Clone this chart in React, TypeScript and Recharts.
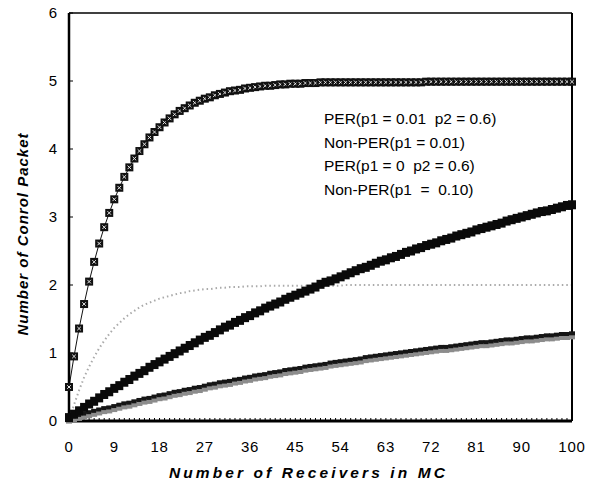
import React from 'react';
import { LineChart, Line, XAxis, YAxis, Legend, Label } from 'recharts';

const receivers = [
  0, 1, 2, 3, 4, 5, 6, 7, 8, 9, 10, 11, 12, 13, 14, 15, 16, 17, 18, 19,
  20, 21, 22, 23, 24, 25, 26, 27, 28, 29, 30, 31, 32, 33, 34, 35, 36, 37, 38, 39,
  40, 41, 42, 43, 44, 45, 46, 47, 48, 49, 50, 51, 52, 53, 54, 55, 56, 57, 58, 59,
  60, 61, 62, 63, 64, 65, 66, 67, 68, 69, 70, 71, 72, 73, 74, 75, 76, 77, 78, 79,
  80, 81, 82, 83, 84, 85, 86, 87, 88, 89, 90, 91, 92, 93, 94, 95, 96, 97, 98, 99, 100,
];

// PER(p1 = 0.01  p2 = 0.6)
const perP1001 = [
  0.50, 0.95, 1.36, 1.72, 2.05, 2.34, 2.61, 2.85, 3.06, 3.26,
  3.43, 3.59, 3.73, 3.86, 3.97, 4.07, 4.17, 4.25, 4.32, 4.39,
  4.45, 4.51, 4.56, 4.60, 4.64, 4.68, 4.71, 4.74, 4.76, 4.79,
  4.81, 4.83, 4.85, 4.86, 4.87, 4.89, 4.90, 4.91, 4.92, 4.93,
  4.93, 4.94, 4.95, 4.95, 4.96, 4.96, 4.96, 4.97, 4.97, 4.97,
  4.98, 4.98, 4.98, 4.98, 4.98, 4.98, 4.98, 4.98, 4.98, 4.98,
  4.98, 4.98, 4.98, 4.98, 4.98, 4.98, 4.98, 4.98, 4.98, 4.98,
  4.98, 4.99, 4.99, 4.99, 4.99, 4.99, 4.99, 4.99, 4.99, 4.99,
  4.99, 4.99, 4.99, 4.99, 4.99, 4.99, 4.99, 4.99, 4.99, 4.99,
  4.99, 4.99, 4.99, 4.99, 4.99, 4.99, 4.99, 4.99, 4.99, 4.99,
  4.99,
];

// Non-PER(p1 = 0.01)
const nonPerP1001 = [
  0.02, 0.04, 0.06, 0.08, 0.10, 0.12, 0.14, 0.16, 0.17, 0.19,
  0.21, 0.23, 0.24, 0.26, 0.28, 0.30, 0.31, 0.33, 0.35, 0.36,
  0.38, 0.40, 0.41, 0.43, 0.44, 0.46, 0.47, 0.49, 0.51, 0.52,
  0.54, 0.55, 0.56, 0.58, 0.59, 0.61, 0.62, 0.64, 0.65, 0.66,
  0.68, 0.69, 0.70, 0.72, 0.73, 0.74, 0.75, 0.77, 0.78, 0.79,
  0.80, 0.81, 0.83, 0.84, 0.85, 0.86, 0.87, 0.88, 0.89, 0.91,
  0.92, 0.93, 0.94, 0.95, 0.96, 0.97, 0.98, 0.99, 1.00, 1.01,
  1.02, 1.03, 1.04, 1.05, 1.06, 1.06, 1.07, 1.08, 1.09, 1.10,
  1.11, 1.12, 1.13, 1.13, 1.14, 1.15, 1.16, 1.17, 1.17, 1.18,
  1.19, 1.20, 1.20, 1.21, 1.22, 1.23, 1.23, 1.24, 1.25, 1.25,
  1.26,
];

// PER(p1 = 0  p2 = 0.6)
const perP100 = [
  0.05, 0.10, 0.15, 0.20, 0.25, 0.29, 0.34, 0.39, 0.43, 0.48,
  0.52, 0.57, 0.61, 0.66, 0.70, 0.74, 0.79, 0.83, 0.87, 0.91,
  0.95, 0.99, 1.03, 1.07, 1.11, 1.15, 1.19, 1.23, 1.26, 1.30,
  1.34, 1.38, 1.41, 1.45, 1.48, 1.52, 1.55, 1.59, 1.62, 1.66,
  1.69, 1.72, 1.75, 1.79, 1.82, 1.85, 1.88, 1.91, 1.94, 1.97,
  2.01, 2.04, 2.06, 2.09, 2.12, 2.15, 2.18, 2.21, 2.24, 2.26,
  2.29, 2.32, 2.35, 2.37, 2.40, 2.42, 2.45, 2.48, 2.50, 2.53,
  2.55, 2.58, 2.60, 2.62, 2.65, 2.67, 2.69, 2.72, 2.74, 2.76,
  2.78, 2.81, 2.83, 2.85, 2.87, 2.89, 2.91, 2.94, 2.96, 2.98,
  3.00, 3.02, 3.04, 3.06, 3.08, 3.09, 3.11, 3.13, 3.15, 3.17,
  3.18,
];

// Non-PER(p1 = 0.10)
const nonPerP1010 = [
  0.00, 0.24, 0.45, 0.64, 0.80, 0.94, 1.07, 1.18, 1.28, 1.37,
  1.44, 1.51, 1.57, 1.62, 1.67, 1.71, 1.74, 1.77, 1.80, 1.82,
  1.84, 1.86, 1.88, 1.89, 1.91, 1.92, 1.93, 1.94, 1.94, 1.95,
  1.96, 1.96, 1.97, 1.97, 1.97, 1.98, 1.98, 1.98, 1.98, 1.99,
  1.99, 1.99, 1.99, 1.99, 1.99, 1.99, 1.99, 1.99, 1.99, 1.99,
  1.99, 1.99, 1.99, 1.99, 1.99, 2.00, 2.00, 2.00, 2.00, 2.00,
  2.00, 2.00, 2.00, 2.00, 2.00, 2.00, 2.00, 2.00, 2.00, 2.00,
  2.00, 2.00, 2.00, 2.00, 2.00, 2.00, 2.00, 2.00, 2.00, 2.00,
  2.00, 2.00, 2.00, 2.00, 2.00, 2.00, 2.00, 2.00, 2.00, 2.00,
  2.00, 2.00, 2.00, 2.00, 2.00, 2.00, 2.00, 2.00, 2.00, 2.00,
  2.00,
];

const xTickLabels = [0, 9, 18, 27, 36, 45, 54, 63, 72, 81, 90, 100];
const yTicks = [0, 1, 2, 3, 4, 5, 6];
const seriesNames = [
  'PER(p1 = 0.01  p2 = 0.6)',
  'Non-PER(p1 = 0.01)',
  'PER(p1 = 0  p2 = 0.6)',
  'Non-PER(p1  =  0.10)',
];
const xTitle = 'Number of Receivers in MC';
const yTitle = 'Number of Conrol Packet';

const data = receivers.map((x, i) => ({
  x,
  a: perP1001[i],
  b: nonPerP1001[i],
  c: perP100[i],
  d: nonPerP1010[i],
}));

const FONT = '"Liberation Sans", Arial, Helvetica, sans-serif';

const TopDot = (p: any) => {
  const { cx, cy, index } = p;
  if (cx == null || cy == null) return <g key={`ta${index}`} />;
  return (
    <g key={`ta${index}`}>
      <rect x={cx - 4} y={cy - 4} width={8} height={8} fill="#111" />
      <path
        d={`M${cx - 1.8},${cy - 1.8}L${cx + 1.8},${cy + 1.8}M${cx + 1.8},${cy - 1.8}L${cx - 1.8},${cy + 1.8}`}
        stroke="#e6e6e6"
        strokeWidth={1}
      />
    </g>
  );
};

const MidDot = (p: any) => {
  const { cx, cy, index } = p;
  if (cx == null || cy == null) return <g key={`tc${index}`} />;
  return <rect key={`tc${index}`} x={cx - 4} y={cy - 4.5} width={8} height={9} fill="#0a0a0a" />;
};

const LowDot = (p: any) => {
  const { cx, cy, index } = p;
  if (cx == null || cy == null) return <g key={`tb${index}`} />;
  return (
    <g key={`tb${index}`}>
      <rect x={cx - 3} y={cy - 1} width={6} height={5} fill="#8c8c8c" />
      <rect x={cx - 3} y={cy - 4} width={6} height={4} fill="#151515" />
    </g>
  );
};

const LegendContent = (props: any) => {
  const payload = [...(props.payload || [])].sort(
    (p: any, q: any) => seriesNames.indexOf(p.value) - seriesNames.indexOf(q.value)
  );
  return (
    <div style={{ fontFamily: FONT, fontSize: 15.5, color: '#000' }}>
      {payload.map((e: any, i: number) => (
        <div key={i} style={{ whiteSpace: 'pre', lineHeight: '23.6px' }}>
          {e.value}
        </div>
      ))}
    </div>
  );
};

const XTitle = (props: any) => {
  const vb = props.viewBox || { x: 0, y: 0, width: 0, height: 0 };
  return (
    <text
      x={vb.x + vb.width / 2 - 12}
      y={vb.y + vb.height - 11}
      textAnchor="middle"
      fontFamily={FONT}
      fontSize={15.5}
      fontWeight="bold"
      fontStyle="italic"
      letterSpacing={3.1}
      fill="#000"
    >
      {xTitle}
    </text>
  );
};

const YTitle = (props: any) => {
  const vb = props.viewBox || { x: 0, y: 0, width: 0, height: 0 };
  const cx = vb.x + 22;
  const cy = vb.y + vb.height / 2 + 17;
  return (
    <text
      x={cx}
      y={cy}
      transform={`rotate(-90, ${cx}, ${cy})`}
      textAnchor="middle"
      dominantBaseline="central"
      fontFamily={FONT}
      fontSize={15}
      fontWeight="bold"
      fontStyle="italic"
      letterSpacing={1}
      fill="#000"
    >
      {yTitle}
    </text>
  );
};

export default function App() {
  return (
    <div style={{ position: 'absolute', left: 0, top: 0, width: 593, height: 489, background: '#fff' }}>
      <LineChart
        width={593}
        height={489}
        data={data}
        margin={{ top: 0, right: 0, bottom: 0, left: 0 }}
        style={{ fontFamily: FONT }}
      >
        <XAxis
          xAxisId="top"
          orientation="top"
          type="number"
          domain={[0, 100]}
          height={13}
          tick={false}
          tickLine={false}
          axisLine={{ stroke: '#000', strokeWidth: 1.5 }}
        />
        <YAxis
          yAxisId="right"
          orientation="right"
          type="number"
          domain={[0, 6]}
          width={21}
          tick={false}
          tickLine={false}
          axisLine={{ stroke: '#000', strokeWidth: 2 }}
        />
        <Legend
          layout="vertical"
          align="center"
          verticalAlign="middle"
          content={LegendContent}
          wrapperStyle={{ left: 324, top: 107, width: 'auto', height: 'auto' }}
        />
        <Line
          name={seriesNames[0]}
          dataKey="a"
          stroke="#111"
          strokeWidth={1}
          dot={TopDot}
          activeDot={false}
          isAnimationActive={false}
        />
        <Line
          name={seriesNames[1]}
          dataKey="b"
          stroke="#222"
          strokeWidth={2}
          dot={LowDot}
          activeDot={false}
          isAnimationActive={false}
        />
        <Line
          name={seriesNames[2]}
          dataKey="c"
          stroke="#000"
          strokeWidth={3}
          dot={MidDot}
          activeDot={false}
          isAnimationActive={false}
        />
        <Line
          name={seriesNames[3]}
          dataKey="d"
          stroke="#aaaaaa"
          strokeWidth={2}
          strokeDasharray="1.5 3"
          dot={false}
          activeDot={false}
          isAnimationActive={false}
        />
        <XAxis
          dataKey="x"
          type="number"
          domain={[0, 100]}
          ticks={receivers}
          interval={0}
          tickFormatter={(v: number) => (xTickLabels.includes(v) ? String(v) : '')}
          tickSize={-3}
          tickMargin={23}
          tick={{ fill: '#000', fontSize: 15, fontFamily: FONT, letterSpacing: 0.8 }}
          tickLine={{ stroke: '#000', strokeWidth: 1 }}
          axisLine={{ stroke: '#000', strokeWidth: 3 }}
          height={68}
        >
          <Label content={XTitle} />
        </XAxis>
        <YAxis
          type="number"
          domain={[0, 6]}
          ticks={yTicks}
          interval={0}
          width={69}
          tickSize={-4}
          tickMargin={16}
          tick={{ fill: '#000', fontSize: 15, fontFamily: FONT }}
          tickLine={{ stroke: '#000', strokeWidth: 1 }}
          axisLine={{ stroke: '#000', strokeWidth: 2.5 }}
        >
          <Label content={YTitle} />
        </YAxis>
      </LineChart>
    </div>
  );
}
